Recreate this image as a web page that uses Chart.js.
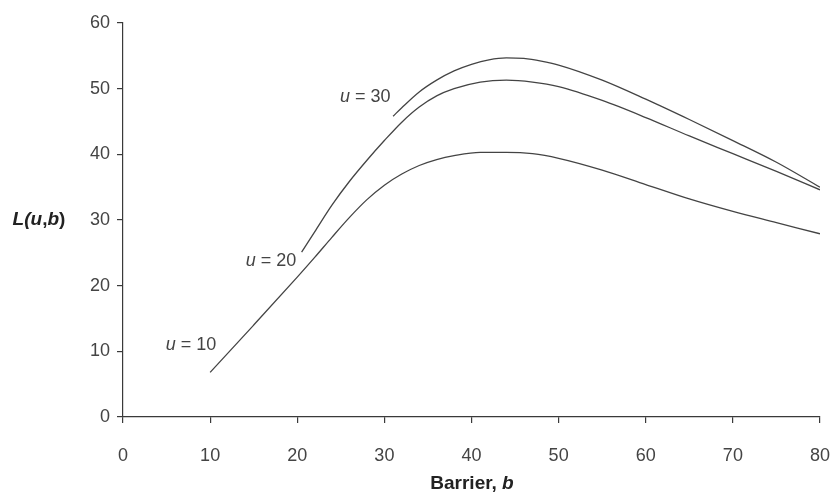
<!DOCTYPE html>
<html>
<head>
<meta charset="utf-8">
<script src="https://cdn.jsdelivr.net/npm/chart.js@4"></script>
<style>
  html, body { margin: 0; padding: 0; background: #fff; }
</style>
</head>
<body>
<canvas id="grafico" width="830" height="497"></canvas>
<script>
// barrier b and L(u,b), one pair of arrays per curve
const bU10 = [10, 15, 20, 22, 24, 26, 28, 30, 32, 34, 36, 38, 41, 44, 47, 50, 55, 60, 65, 70, 75, 80];
const lU10 = [6.8, 14.0, 21.3, 24.3, 27.4, 30.4, 33.1, 35.3, 37.0, 38.3, 39.2, 39.8, 40.3, 40.3, 40.1, 39.4, 37.6, 35.4, 33.2, 31.3, 29.6, 27.9];

const bU20 = [20.5, 22, 24, 26, 28, 30, 32, 34, 36, 38, 41, 44, 47, 50, 55, 60, 65, 70, 75, 80];
const lU20 = [25.1, 28.2, 32.3, 35.9, 39.1, 42.1, 44.9, 47.2, 48.9, 50.0, 51.0, 51.3, 51.0, 50.3, 48.2, 45.6, 42.8, 40.1, 37.4, 34.6];

const bU30 = [31, 32, 34, 36, 38, 40, 42, 44, 46, 48, 50, 55, 60, 65, 70, 75, 80];
const lU30 = [45.8, 47.1, 49.5, 51.3, 52.7, 53.7, 54.4, 54.7, 54.6, 54.2, 53.6, 51.3, 48.4, 45.3, 42.1, 38.8, 35.0];

// curve labels and where they sit (in data units)
const curveNames = ['10', '20', '30'];
const labelB = [7.8, 17.0, 27.8];
const labelL = [10.9, 23.8, 48.8];

const xTicks = [0, 10, 20, 30, 40, 50, 60, 70, 80];
const yTicks = [0, 10, 20, 30, 40, 50, 60];

const tinta = '#3a3a3a';
const fonte = '"Liberation Sans", Arial, sans-serif';

function pares(bs, ls) {
  return bs.map((b, i) => ({ x: b, y: ls[i] }));
}

function serie(bs, ls) {
  return {
    data: pares(bs, ls),
    borderColor: '#444',
    borderWidth: 1.3,
    pointRadius: 0,
    fill: false,
    cubicInterpolationMode: 'monotone'
  };
}

// draws italic/normal pieces of text centred on (cx, cy)
function textoMisto(ctx, partes, cx, cy) {
  let total = 0;
  partes.forEach(p => { ctx.font = p.font; total += ctx.measureText(p.t).width; });
  let x = cx - total / 2;
  partes.forEach(p => {
    ctx.font = p.font;
    ctx.fillText(p.t, x, cy);
    x += ctx.measureText(p.t).width;
  });
}

const rotulos = {
  id: 'rotulos',
  afterDraw(chart) {
    const ctx = chart.ctx;
    const sx = chart.scales.x, sy = chart.scales.y;
    ctx.save();
    ctx.fillStyle = '#444';
    ctx.textBaseline = 'middle';
    ctx.textAlign = 'left';
    const normal = '18px ' + fonte;
    const italico = 'italic 18px ' + fonte;
    curveNames.forEach((n, i) => {
      textoMisto(ctx, [{ t: 'u', font: italico }, { t: ' = ' + n, font: normal }],
        sx.getPixelForValue(labelB[i]), sy.getPixelForValue(labelL[i]));
    });
    // axis titles
    ctx.fillStyle = '#222';
    textoMisto(ctx, [
      { t: 'L(', font: 'bold italic 19px ' + fonte },
      { t: 'u', font: 'bold italic 19px ' + fonte },
      { t: ',', font: 'bold 19px ' + fonte },
      { t: 'b', font: 'bold italic 19px ' + fonte },
      { t: ')', font: 'bold 19px ' + fonte }
    ], 39, sy.getPixelForValue(30));
    textoMisto(ctx, [
      { t: 'Barrier, ', font: 'bold 19px ' + fonte },
      { t: 'b', font: 'bold italic 19px ' + fonte }
    ], 472, 484);
    ctx.restore();
  }
};

const ctx = document.getElementById('grafico').getContext('2d');
new Chart(ctx, {
  type: 'line',
  data: {
    datasets: [serie(bU10, lU10), serie(bU20, lU20), serie(bU30, lU30)]
  },
  options: {
    responsive: false,
    animation: false,
    layout: { padding: { top: 23, right: 10, left: 0, bottom: 0 } },
    plugins: { legend: { display: false }, tooltip: { enabled: false } },
    scales: {
      x: {
        type: 'linear',
        min: 0,
        max: 80,
        afterFit: s => { s.height = 80; s.paddingLeft = 0; s.paddingRight = 0; },
        afterBuildTicks: s => { s.ticks = xTicks.map(v => ({ value: v })); },
        border: { display: true, color: tinta, width: 1.2 },
        grid: { display: true, drawOnChartArea: false, drawTicks: true, tickLength: 6, color: tinta, lineWidth: 1.2 },
        ticks: { color: '#444', padding: 22, maxRotation: 0, font: { family: fonte, size: 18 } }
      },
      y: {
        type: 'linear',
        min: 0,
        max: 60,
        afterFit: s => { s.width = 123; s.paddingTop = 0; s.paddingBottom = 0; },
        afterBuildTicks: s => { s.ticks = yTicks.map(v => ({ value: v })); },
        border: { display: true, color: tinta, width: 1.2 },
        grid: { display: true, drawOnChartArea: false, drawTicks: true, tickLength: 6, color: tinta, lineWidth: 1.2 },
        ticks: { color: '#444', padding: 7, font: { family: fonte, size: 18 } }
      }
    }
  },
  plugins: [rotulos]
});
</script>
</body>
</html>
